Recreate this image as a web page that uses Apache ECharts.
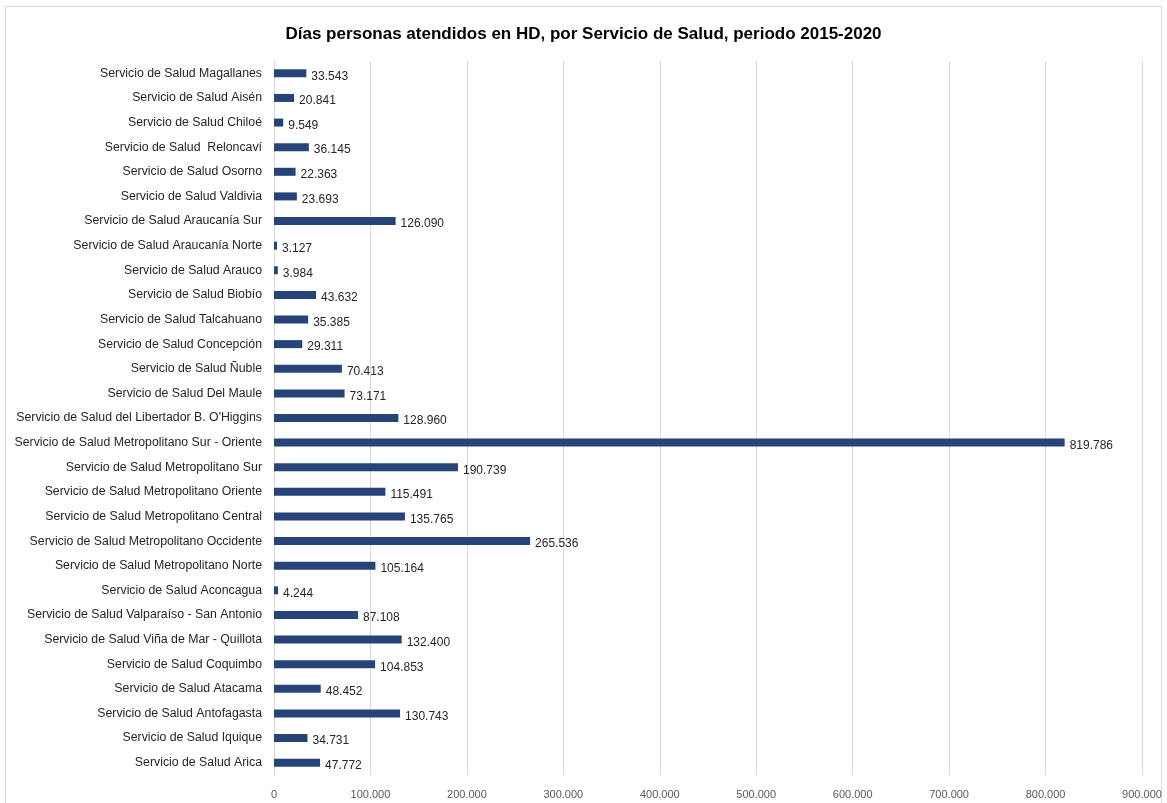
<!DOCTYPE html>
<html>
<head>
<meta charset="utf-8">
<script src="https://cdn.jsdelivr.net/npm/echarts@6/dist/echarts.min.js"></script>
<style>
    html, body { margin: 0; padding: 0; background: #fff; }
    #chart { width: 1167px; height: 803px; }
</style>
</head>
<body>
<div id="chart"></div>
<script>
// servicios, de abajo hacia arriba
var servicios = [
    'Servicio de Salud Arica',
    'Servicio de Salud Iquique',
    'Servicio de Salud Antofagasta',
    'Servicio de Salud Atacama',
    'Servicio de Salud Coquimbo',
    'Servicio de Salud Viña de Mar - Quillota',
    'Servicio de Salud Valparaíso - San Antonio',
    'Servicio de Salud Aconcagua',
    'Servicio de Salud Metropolitano Norte',
    'Servicio de Salud Metropolitano Occidente',
    'Servicio de Salud Metropolitano Central',
    'Servicio de Salud Metropolitano Oriente',
    'Servicio de Salud Metropolitano Sur',
    'Servicio de Salud Metropolitano Sur - Oriente',
    "Servicio de Salud del Libertador B. O'Higgins",
    'Servicio de Salud Del Maule',
    'Servicio de Salud Ñuble',
    'Servicio de Salud Concepción',
    'Servicio de Salud Talcahuano',
    'Servicio de Salud Biobío',
    'Servicio de Salud Arauco',
    'Servicio de Salud Araucanía Norte',
    'Servicio de Salud Araucanía Sur',
    'Servicio de Salud Valdivia',
    'Servicio de Salud Osorno',
    'Servicio de Salud  Reloncaví',
    'Servicio de Salud Chiloé',
    'Servicio de Salud Aisén',
    'Servicio de Salud Magallanes'
];

var diasPersonas = [
    47772, 34731, 130743, 48452, 104853, 132400, 87108, 4244,
    105164, 265536, 135765, 115491, 190739, 819786, 128960,
    73171, 70413, 29311, 35385, 43632, 3984, 3127, 126090,
    23693, 22363, 36145, 9549, 20841, 33543
];

var ejeMin = 0;
var ejeMax = 900000;
var ejeIntervalo = 100000;

function miles(n) {
    return String(n).replace(/\B(?=(\d{3})+(?!\d))/g, '.');
}

var myChart = echarts.init(document.getElementById('chart'));

myChart.setOption({
    animation: false,
    backgroundColor: '#fff',
    textStyle: { fontFamily: 'Liberation Sans' },
    graphic: [{
        type: 'rect',
        shape: { x: 5.5, y: 6.5, width: 1156, height: 800 },
        style: { fill: 'none', stroke: '#d9d9d9', lineWidth: 1 },
        silent: true
    }],
    title: {
        text: 'Días personas atendidos en HD, por Servicio de Salud, periodo 2015-2020',
        left: 'center',
        top: 21,
        textStyle: { fontSize: 17, fontWeight: 'bold', color: '#000', fontFamily: 'Liberation Sans' }
    },
    grid: { left: 274, right: 25, top: 61, bottom: 28, containLabel: false },
    xAxis: {
        type: 'value',
        min: ejeMin,
        max: ejeMax,
        interval: ejeIntervalo,
        axisLine: { show: false },
        axisTick: { show: false },
        axisLabel: {
            color: '#595959',
            fontSize: 11,
            margin: 14,
            formatter: function (v) { return miles(v); }
        },
        splitLine: { lineStyle: { color: '#d9d9d9', width: 1 } }
    },
    yAxis: {
        type: 'category',
        data: servicios,
        axisLine: { show: true, lineStyle: { color: '#d9d9d9' } },
        axisTick: { show: false },
        axisLabel: { color: '#262626', fontSize: 12.3, margin: 12 }
    },
    series: [{
        type: 'bar',
        data: diasPersonas,
        barWidth: 8,
        itemStyle: { color: '#264478' },
        label: {
            show: true,
            position: 'right',
            distance: 5,
            offset: [0, 3],
            color: '#262626',
            fontSize: 12,
            formatter: function (p) { return miles(p.value); }
        }
    }]
});
</script>
</body>
</html>
